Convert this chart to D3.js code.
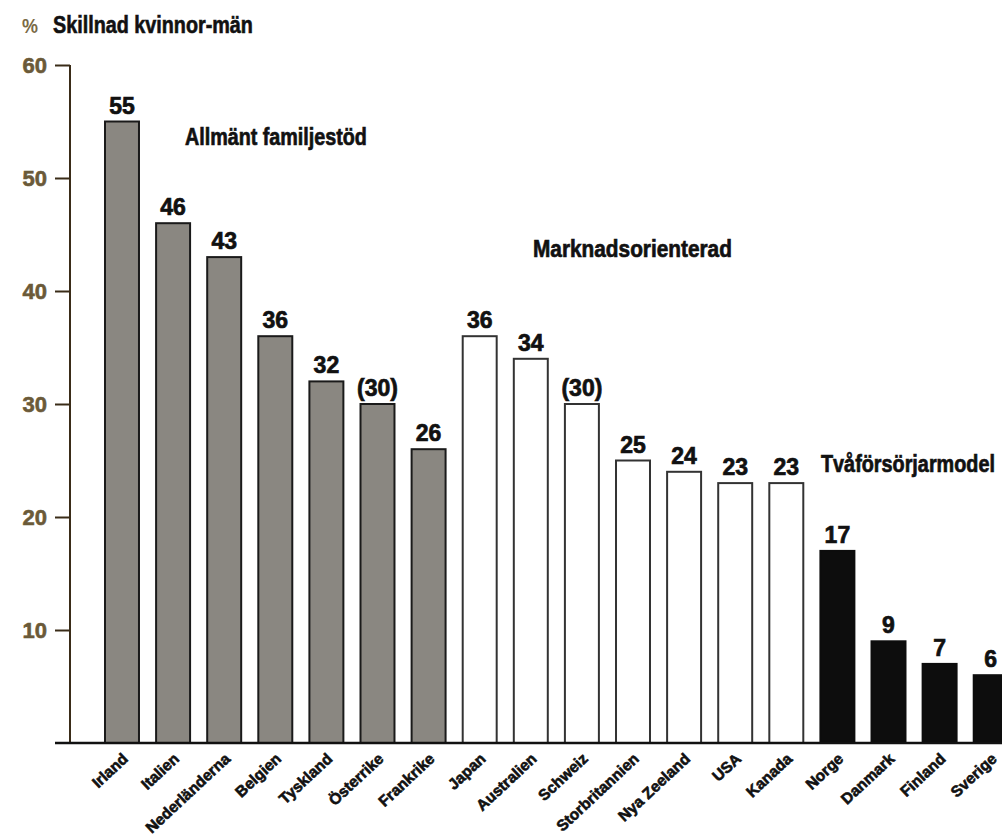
<!DOCTYPE html>
<html><head><meta charset="utf-8">
<script src="https://cdn.jsdelivr.net/npm/d3@7"></script>
<style>
body{margin:0;background:#fff;}
svg{display:block;}
text{font-family:"Liberation Sans",Arial,sans-serif;font-weight:bold;}
</style></head>
<body>
<svg id="chart" width="1002" height="835"></svg>
<script>
const countries = ["Irland","Italien","Nederländerna","Belgien","Tyskland","Österrike","Frankrike","Japan","Australien","Schweiz","Storbritannien","Nya Zeeland","USA","Kanada","Norge","Danmark","Finland","Sverige"];
const values = [55,46,43,36,32,30,26,36,34,30,25,24,23,23,17,9,7,6];
const valueLabels = ["55","46","43","36","32","(30)","26","36","34","(30)","25","24","23","23","17","9","7","6"];
const groups = ["fam","fam","fam","fam","fam","fam","fam","mark","mark","mark","mark","mark","mark","mark","two","two","two","two"];
const groupNames = {fam:"Allmänt familjestöd", mark:"Marknadsorienterad", two:"Tvåförsörjarmodel"};
const yTicks = [10,20,30,40,50,60];
const title = "Skillnad kvinnor-män";

const svg = d3.select("#chart");
const fills = {fam:"#8a8781", mark:"#ffffff", two:"#0d0d0d"};
const strokes = {fam:"#1a1a1a", mark:"#333333", two:"#0d0d0d"};

const x = d3.scaleBand().domain(countries).range([105, 1007.7]).paddingInner(0.335).paddingOuter(0);
const y = d3.scaleLinear().domain([0,60]).range([743, 65]);

// condense a text horizontally to a target width
function fitWidth(sel, x0, y0, w) {
  sel.attr("x",0).attr("y",0);
  const nat = sel.node().getComputedTextLength();
  sel.attr("transform",`translate(${x0},${y0}) scale(${w/nat},1)`);
}

// title
svg.append("text").attr("font-size",21).attr("fill","#7a6a45").text("%")
  .call(s=>fitWidth(s,22,33,16));
svg.append("text").attr("font-size",23).attr("fill","#111")
  .attr("stroke","#111").attr("stroke-width",0.6).text(title)
  .call(s=>fitWidth(s,53,33,200));

// y axis
const yAxis = d3.axisLeft(y).tickValues(yTicks).tickSize(15).tickPadding(8).tickFormat(d3.format("d"));
const ga = svg.append("g").attr("transform","translate(70,0)").call(yAxis);
ga.select(".domain").attr("d",`M0,${y(60)}V${y(0)}`).attr("stroke","#3a2c18").attr("stroke-width",2);
ga.selectAll(".tick line").attr("stroke","#3a2c18").attr("stroke-width",2);
ga.selectAll(".tick text").attr("font-size",22).attr("fill","#6b5a38")
  .attr("font-family","'Liberation Sans',sans-serif").attr("font-weight","bold")
  .attr("stroke","#6b5a38").attr("stroke-width",0.6);

// bars
svg.append("g").selectAll("rect").data(countries).join("rect")
  .attr("x",d=>x(d)).attr("width",x.bandwidth())
  .attr("y",(d,i)=>y(values[i])).attr("height",(d,i)=>y(0)-y(values[i]))
  .attr("fill",(d,i)=>fills[groups[i]]).attr("stroke",(d,i)=>strokes[groups[i]]).attr("stroke-width",2);

// baseline
svg.append("line").attr("x1",55).attr("x2",1002).attr("y1",y(0)).attr("y2",y(0))
  .attr("stroke","#111").attr("stroke-width",2.5);

// value labels
svg.append("g").selectAll("text").data(countries).join("text")
  .attr("x",d=>x(d)+x.bandwidth()/2).attr("y",(d,i)=>y(values[i])-8)
  .attr("text-anchor","middle").attr("font-size",23).attr("fill","#111")
  .attr("stroke","#111").attr("stroke-width",0.7)
  .text((d,i)=>valueLabels[i]);

// x labels
svg.append("g").selectAll("text").data(countries).join("text")
  .attr("transform",d=>`translate(${x(d)+x.bandwidth()/2+7},${y(0)+17}) rotate(-43)`)
  .attr("text-anchor","end").attr("font-size",15.5).attr("fill","#111")
  .attr("stroke","#111").attr("stroke-width",0.6)
  .text(d=>d);

// group labels
const gl = [
  {g:"fam", x:185, y:145, w:182},
  {g:"mark", x:533, y:257, w:199},
  {g:"two", x:821, y:472, w:174}
];
svg.append("g").selectAll("text").data(gl).join("text")
  .attr("font-size",24).attr("fill","#111")
  .attr("stroke","#111").attr("stroke-width",0.7)
  .text(d=>groupNames[d.g])
  .each(function(d){ fitWidth(d3.select(this), d.x, d.y, d.w); });
</script>
</body></html>
